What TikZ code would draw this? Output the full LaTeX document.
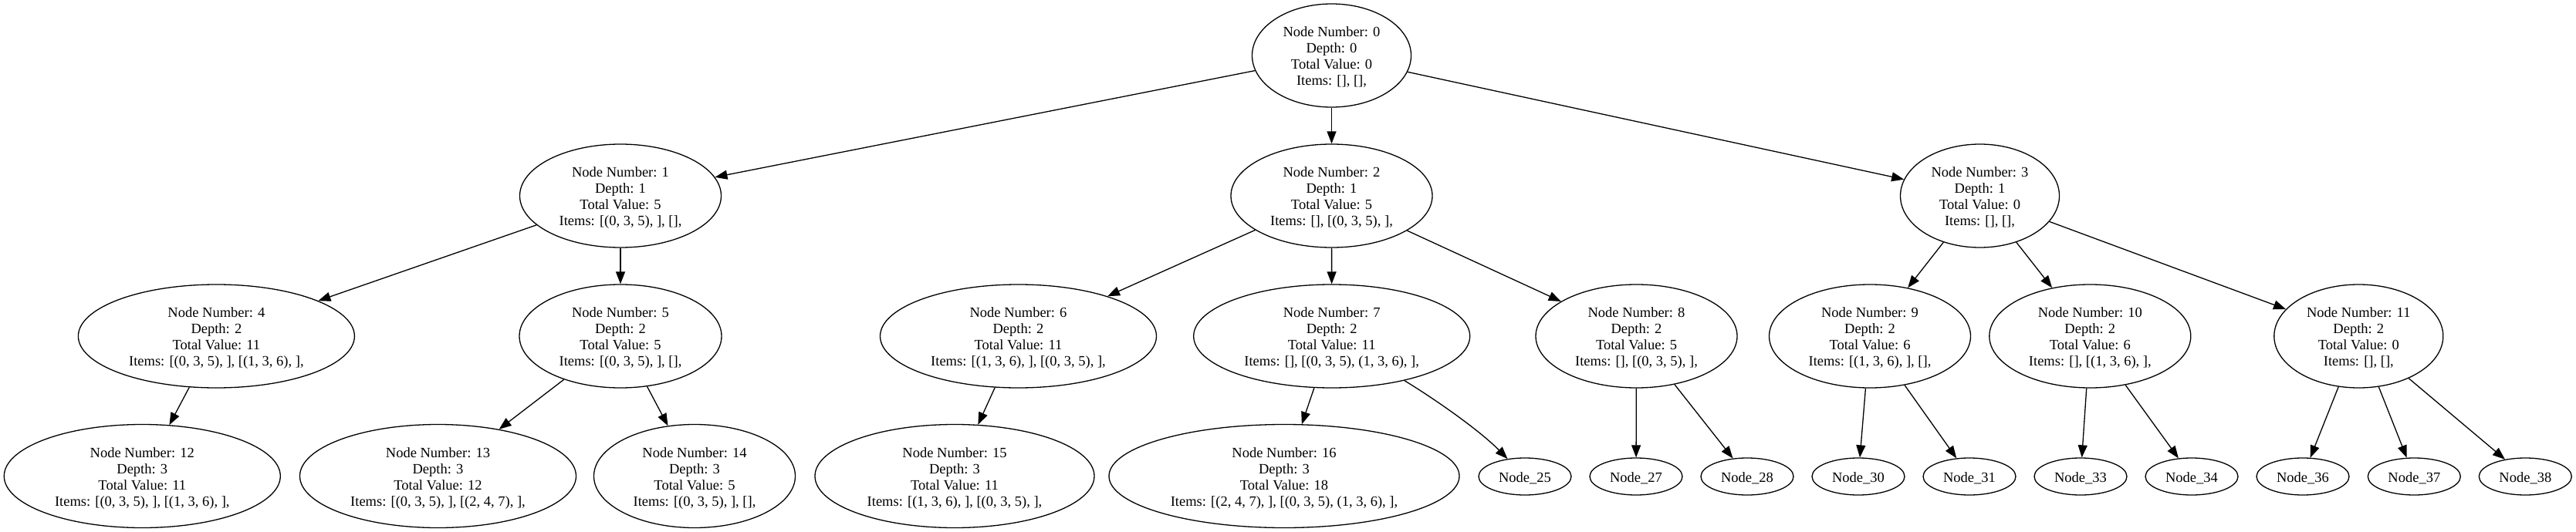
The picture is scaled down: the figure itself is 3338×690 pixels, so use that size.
\documentclass[tikz,border=0pt]{standalone}
\usepackage{fontspec}
\setmainfont{Liberation Serif}
\usetikzlibrary{shapes.geometric,arrows.meta}
\newcommand{\ndlab}[4]{\makebox[0pt]{\smash{\raisebox{24.5pt}{\begin{tabular}[t]{@{}c@{}}Node Number: #1\\Depth: #2\\Total Value: #3\\Items: #4\end{tabular}}}}}
\newcommand{\leaflab}[1]{\makebox[0pt]{\smash{\raisebox{-7pt}{Node\_#1}}}}
\begin{document}
\begin{tikzpicture}[x=1pt,y=-1pt,
  every node/.style={font=\fontsize{18.5}{21}\selectfont},
  bign/.style={draw, ellipse, inner sep=0pt, minimum height=134pt, line width=1.3pt},
  leafn/.style={draw, ellipse, inner sep=0pt, minimum width=120pt, minimum height=48pt, line width=1.3pt},
  conn/.style={line width=1.3pt, -{Triangle[length=16pt,width=12pt]}}]
\useasboundingbox[fill=white] (0,0) rectangle (3338,690);
% level 0
\node[bign, minimum width=206pt] (n0) at (1725.5,72) {\ndlab{0}{0}{0}{[], [],}};
% level 1
\node[bign, minimum width=261pt] (n1) at (804,254) {\ndlab{1}{1}{5}{[(0, 3, 5), ], [],}};
\node[bign, minimum width=261pt] (n2) at (1725.5,254) {\ndlab{2}{1}{5}{[], [(0, 3, 5), ],}};
\node[bign, minimum width=206pt] (n3) at (2565.5,254) {\ndlab{3}{1}{0}{[], [],}};
% level 2
\node[bign, minimum width=358pt] (n4) at (280.4,436) {\ndlab{4}{2}{11}{[(0, 3, 5), ], [(1, 3, 6), ],}};
\node[bign, minimum width=262pt] (n5) at (804,436) {\ndlab{5}{2}{5}{[(0, 3, 5), ], [],}};
\node[bign, minimum width=358pt] (n6) at (1319.5,436) {\ndlab{6}{2}{11}{[(1, 3, 6), ], [(0, 3, 5), ],}};
\node[bign, minimum width=358pt] (n7) at (1725.7,436) {\ndlab{7}{2}{11}{[], [(0, 3, 5), (1, 3, 6), ],}};
\node[bign, minimum width=261pt] (n8) at (2120.5,436) {\ndlab{8}{2}{5}{[], [(0, 3, 5), ],}};
\node[bign, minimum width=261pt] (n9) at (2423,436) {\ndlab{9}{2}{6}{[(1, 3, 6), ], [],}};
\node[bign, minimum width=261pt] (n10) at (2708.3,436) {\ndlab{10}{2}{6}{[], [(1, 3, 6), ],}};
\node[bign, minimum width=219pt] (n11) at (3056.3,436) {\ndlab{11}{2}{0}{[], [],}};
% level 3
\node[bign, minimum width=358pt] (n12) at (184.3,617.5) {\ndlab{12}{3}{11}{[(0, 3, 5), ], [(1, 3, 6), ],}};
\node[bign, minimum width=358pt] (n13) at (567.5,617.5) {\ndlab{13}{3}{12}{[(0, 3, 5), ], [(2, 4, 7), ],}};
\node[bign, minimum width=261pt] (n14) at (900,617.5) {\ndlab{14}{3}{5}{[(0, 3, 5), ], [],}};
\node[bign, minimum width=362pt] (n15) at (1237,617.5) {\ndlab{15}{3}{11}{[(1, 3, 6), ], [(0, 3, 5), ],}};
\node[bign, minimum width=454pt] (n16) at (1664,617.5) {\ndlab{16}{3}{18}{[(2, 4, 7), ], [(0, 3, 5), (1, 3, 6), ],}};
\node[leafn] (n25) at (1976,618) {\leaflab{25}};
\node[leafn] (n27) at (2120,618) {\leaflab{27}};
\node[leafn] (n28) at (2264,618) {\leaflab{28}};
\node[leafn] (n30) at (2408,618) {\leaflab{30}};
\node[leafn] (n31) at (2552,618) {\leaflab{31}};
\node[leafn] (n33) at (2696,618) {\leaflab{33}};
\node[leafn] (n34) at (2840,618) {\leaflab{34}};
\node[leafn] (n36) at (2984,618) {\leaflab{36}};
\node[leafn] (n37) at (3128.3,618) {\leaflab{37}};
\node[leafn] (n38) at (3272.3,618) {\leaflab{38}};
% edges
\draw[conn] (n0) -- (n1);
\draw[conn] (n0) -- (n2);
\draw[conn] (n0) -- (n3);
\draw[conn] (n1) -- (n4);
\draw[conn] (n1) -- (n5);
\draw[conn] (n2) -- (n6);
\draw[conn] (n2) -- (n7);
\draw[conn] (n2) -- (n8);
\draw[conn] (n3) -- (n9);
\draw[conn] (n3) -- (n10);
\draw[conn] (n3) -- (n11);
\draw[conn] (n4) -- (n12);
\draw[conn] (n5) -- (n13);
\draw[conn] (n5) -- (n14);
\draw[conn] (n6) -- (n15);
\draw[conn] (n7) -- (n16);
\coordinate (c1) at (1863,520);
\coordinate (c2) at (1918,559);
\draw[conn] (n7) .. controls (c1) and (c2) .. (n25);
\draw[conn] (n8) -- (n27);
\draw[conn] (n8) -- (n28);
\draw[conn] (n9) -- (n30);
\draw[conn] (n9) -- (n31);
\draw[conn] (n10) -- (n33);
\draw[conn] (n10) -- (n34);
\draw[conn] (n11) -- (n36);
\draw[conn] (n11) -- (n37);
\draw[conn] (n11) -- (n38);
\end{tikzpicture}
\end{document}
